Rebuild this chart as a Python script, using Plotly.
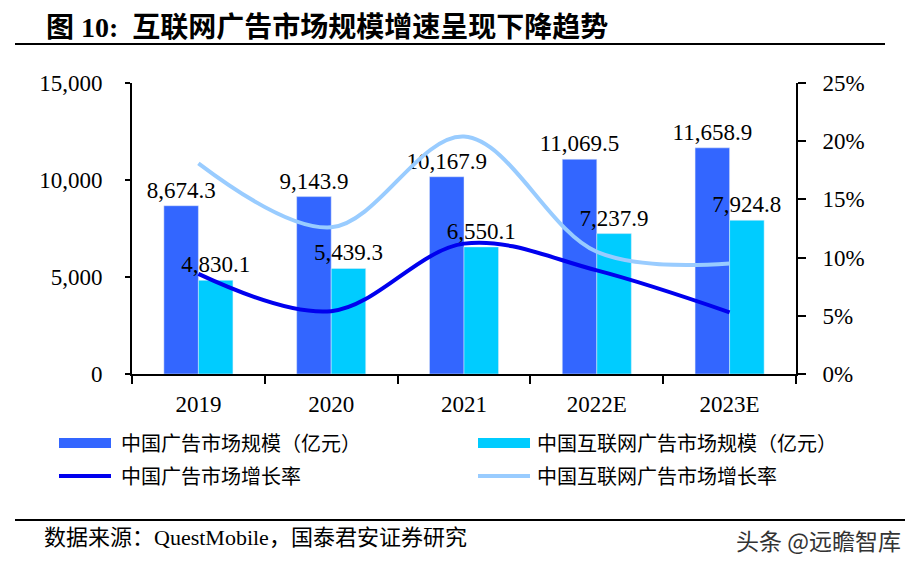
import plotly.graph_objects as go
from plotly.subplots import make_subplots

years = ["2019", "2020", "2021", "2022E", "2023E"]
ad_market = [8674.3, 9143.9, 10167.9, 11069.5, 11658.9]
net_ad_market = [4830.1, 5439.3, 6550.1, 7237.9, 7924.8]
ad_growth = [8.6, 5.4, 11.2, 8.9, 5.3]
net_ad_growth = [18.1, 12.6, 20.4, 10.5, 9.5]

names = ["中国广告市场规模（亿元）", "中国互联网广告市场规模（亿元）",
         "中国广告市场增长率", "中国互联网广告市场增长率"]

C_BAR1 = "#3366FF"
C_BAR2 = "#00CCFF"
C_LINE1 = "#0000EE"
C_LINE2 = "#99CCFF"
SERIF = "Liberation Serif, Times New Roman, serif"
MIXED = "Liberation Serif, Noto Sans CJK SC, serif"
CJK = "Noto Sans CJK SC"

W, H = 916, 570
L, R, T, B = 132, 120, 83, 196
PW, PH = W - L - R, H - T - B


def px(x):
    return (x - L) / PW


def py(y):
    return (H - B - y) / PH


fig = make_subplots(specs=[[{"secondary_y": True}]])

fig.add_trace(go.Bar(x=years, y=ad_market, name=names[0], marker_color=C_BAR1,
                     text=[f"{v:,.1f}" for v in ad_market], textposition="outside",
                     constraintext="none",
                     textfont=dict(family=SERIF, size=23, color="black"),
                     cliponaxis=False, showlegend=False), secondary_y=False)
fig.add_trace(go.Bar(x=years, y=net_ad_market, name=names[1], marker_color=C_BAR2,
                     text=[f"{v:,.1f}" for v in net_ad_market], textposition="outside",
                     constraintext="none",
                     textfont=dict(family=SERIF, size=23, color="black"),
                     cliponaxis=False, showlegend=False), secondary_y=False)
fig.add_trace(go.Scatter(x=years, y=ad_growth, name=names[2], mode="lines",
                         line=dict(color=C_LINE1, width=4, shape="spline", smoothing=1.0),
                         showlegend=False), secondary_y=True)
fig.add_trace(go.Scatter(x=years, y=net_ad_growth, name=names[3], mode="lines",
                         line=dict(color=C_LINE2, width=4, shape="spline", smoothing=1.0),
                         showlegend=False), secondary_y=True)

fig.update_layout(
    width=W, height=H,
    margin=dict(l=L, r=R, t=T, b=B, autoexpand=False),
    plot_bgcolor="white", paper_bgcolor="white",
    barmode="group", bargap=0.48, bargroupgap=0,
    showlegend=False,
    font=dict(family=SERIF, size=23, color="black"),
)
fig.update_xaxes(domain=[0, 1], showline=True, linecolor="black", linewidth=2, ticks="outside",
                 tickson="boundaries", ticklen=8, tickwidth=2, tickcolor="black",
                 ticklabelstandoff=8,
                 tickfont=dict(family=SERIF, size=23), showgrid=False)
fig.update_yaxes(range=[0, 15000], dtick=5000, tickformat=",d", showline=True,
                 linecolor="black", linewidth=2, ticks="outside", ticklen=5,
                 tickwidth=2, tickcolor="black", showgrid=False, zeroline=False,
                 ticklabelstandoff=18,
                 tickfont=dict(family=SERIF, size=23), secondary_y=False)
fig.update_yaxes(range=[0, 25], dtick=5, ticksuffix="%", showline=True,
                 linecolor="black", linewidth=2, ticks="outside", ticklen=8,
                 tickwidth=2, tickcolor="black", showgrid=False, zeroline=False,
                 ticklabelstandoff=12,
                 tickfont=dict(family=SERIF, size=23), secondary_y=True)

shapes = []
annotations = []

# title and rules
annotations.append(dict(text="<b>图 10:  互联网广告市场规模增速呈现下降趋势</b>", xref="paper", yref="paper",
                        x=px(44), y=py(27), xanchor="left", yanchor="middle", showarrow=False,
                        font=dict(family=MIXED, size=28, color="black")))
shapes.append(dict(type="line", xref="paper", yref="paper", x0=px(15), x1=px(885),
                   y0=py(44), y1=py(44), line=dict(color="black", width=2)))
shapes.append(dict(type="line", xref="paper", yref="paper", x0=px(15), x1=px(905),
                   y0=py(520), y1=py(520), line=dict(color="black", width=2)))
annotations.append(dict(text="数据来源：QuestMobile，国泰君安证券研究", xref="paper", yref="paper",
                        x=px(42), y=py(537), xanchor="left", yanchor="middle", showarrow=False,
                        font=dict(family=MIXED, size=22, color="black")))
annotations.append(dict(text="头条 @远瞻智库", xref="paper", yref="paper",
                        x=px(903), y=py(540), xanchor="right", yanchor="middle", showarrow=False,
                        font=dict(family=CJK, size=23, color="#333333")))

# legend
legend_items = [
    (names[0], "bar", C_BAR1, 59, 111, 443, 119),
    (names[1], "bar", C_BAR2, 478, 530, 443, 535),
    (names[2], "line", C_LINE1, 59, 111, 476, 119),
    (names[3], "line", C_LINE2, 478, 530, 476, 535),
]
for text, kind, color, x0, x1, yc, tx in legend_items:
    if kind == "bar":
        shapes.append(dict(type="rect", xref="paper", yref="paper", x0=px(x0), x1=px(x1),
                           y0=py(yc + 5), y1=py(yc - 5), fillcolor=color, line=dict(width=0)))
    else:
        shapes.append(dict(type="line", xref="paper", yref="paper", x0=px(x0), x1=px(x1),
                           y0=py(yc), y1=py(yc), line=dict(color=color, width=4)))
    annotations.append(dict(text=text, xref="paper", yref="paper", x=px(tx), y=py(yc + 1),
                            xanchor="left", yanchor="middle", showarrow=False,
                            font=dict(family=MIXED, size=20, color="black")))

fig.update_layout(shapes=shapes, annotations=annotations)
fig.write_html("out.html", config={"displayModeBar": False},
               post_script="document.body.style.margin='0';document.body.style.overflow='hidden';")
